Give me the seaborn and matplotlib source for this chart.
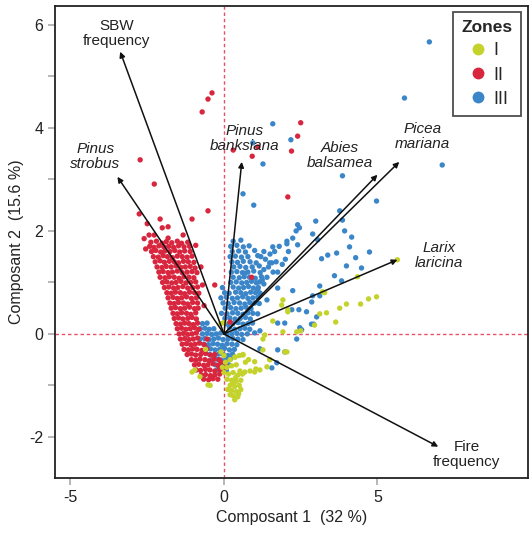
import pandas as pd
import seaborn as sns
import matplotlib.pyplot as plt
from matplotlib.ticker import MultipleLocator

# Points, par zone (Composant 1, Composant 2)
zone1_pts = [
    (0.05, -0.55), (0.2, -0.5), (0.36, -0.45), (0.5, -0.42), (0.62, -0.4),
    (0.1, -0.65), (0.25, -0.62), (0.4, -0.6), (-0.05, -0.65), (0.7, -0.55),
    (0.0, -0.75), (0.15, -0.78), (0.3, -0.75), (0.45, -0.8), (0.6, -0.78),
    (0.1, -0.88), (0.25, -0.9), (0.4, -0.92), (0.55, -0.9), (0.68, -0.74),
    (0.2, -1.0), (0.35, -1.02), (0.5, -1.0), (0.12, -1.08), (0.25, -1.1),
    (0.4, -1.12), (0.55, -1.08), (0.3, -1.2), (0.45, -1.22), (0.35, -1.28),
    (0.2, -1.18), (0.85, -0.72), (1.0, -0.74), (1.04, -0.68), (1.17, -0.7),
    (1.4, -0.64), (1.49, -0.5), (1.27, -0.31), (1.0, -0.54), (0.8, -0.5),
    (-1.04, -0.74), (-0.95, -0.7), (-0.78, -0.83), (-0.52, -0.99), (-0.45, -1.0),
    (-0.1, 0.2), (0.0, 0.22), (-0.6, -0.3), (-0.1, -0.35), (0.0, -0.42),
    (1.92, 0.66), (1.88, 0.56), (2.08, 0.47), (2.08, 0.43), (1.59, 0.25),
    (3.21, 0.82), (3.28, 0.8), (3.34, 0.41), (3.12, 0.39), (2.95, 0.17),
    (3.64, 0.23), (3.77, 0.5), (3.99, 0.58), (4.45, 0.58), (4.71, 0.68),
    (4.97, 0.72), (4.35, 1.11), (1.92, 0.04), (2.37, 0.04), (2.5, 0.06),
    (1.33, -0.02), (1.27, -0.1), (1.98, -0.35), (2.05, -0.35), (1.49, -0.5),
    (0.36, -0.45), (0.62, -0.41), (5.65, 1.44),
    (0.28, -0.96), (0.48, -1.16), (0.38, -0.85), (0.52, -0.72),
]

zone2_pts = [
    # points isolés
    (-0.71, 4.31), (-0.52, 4.56), (-0.39, 4.68), (-2.73, 3.38), (-2.27, 2.91),
    (-0.52, 2.39), (0.3, 3.57), (0.92, 3.45), (1.1, 3.63), (2.4, 3.84),
    (2.2, 3.55), (2.5, 4.1), (2.08, 2.66), (-2.76, 2.33), (-1.04, 2.23),
    (-2.08, 2.23), (-1.82, 2.08), (-2.01, 2.06), (-2.5, 2.14), (-2.44, 1.92),
    (-2.27, 1.92), (-1.33, 1.92), (-1.82, 1.86), (-2.55, 1.65), (-2.6, 1.85),
    (-0.75, 1.3), (-0.7, 0.95), (-0.3, 0.95), (0.2, 0.23), (0.9, 1.1),
    (-0.65, 0.55), (-0.55, -0.1), (-0.1, -0.55), (0.05, -0.62),
    # nuage dense
    (-2.38, 1.78), (-2.2, 1.8), (-2.02, 1.76), (-1.88, 1.79), (-1.7, 1.77),
    (-1.52, 1.8), (-1.38, 1.76), (-1.18, 1.78),
    (-2.42, 1.7), (-2.28, 1.68), (-2.12, 1.71), (-1.96, 1.69), (-1.8, 1.7),
    (-1.64, 1.68), (-1.48, 1.71), (-1.3, 1.69), (-1.12, 1.7), (-0.92, 1.72),
    (-2.36, 1.6), (-2.22, 1.62), (-2.06, 1.59), (-1.92, 1.61), (-1.76, 1.6),
    (-1.6, 1.62), (-1.44, 1.59), (-1.28, 1.61), (-1.1, 1.6),
    (-2.3, 1.5), (-2.14, 1.49), (-1.98, 1.52), (-1.84, 1.5), (-1.68, 1.48),
    (-1.52, 1.51), (-1.36, 1.5), (-1.2, 1.49), (-1.04, 1.51),
    (-2.24, 1.4), (-2.08, 1.42), (-1.94, 1.39), (-1.78, 1.41), (-1.62, 1.4),
    (-1.48, 1.38), (-1.32, 1.41), (-1.16, 1.4), (-0.98, 1.39),
    (-2.18, 1.3), (-2.02, 1.29), (-1.88, 1.31), (-1.72, 1.3), (-1.56, 1.32),
    (-1.4, 1.29), (-1.26, 1.3), (-1.1, 1.31), (-0.94, 1.28),
    (-2.12, 1.2), (-1.98, 1.21), (-1.82, 1.19), (-1.68, 1.2), (-1.52, 1.22),
    (-1.36, 1.19), (-1.2, 1.2), (-1.04, 1.21), (-0.88, 1.19),
    (-2.08, 1.1), (-1.92, 1.09), (-1.78, 1.11), (-1.62, 1.1), (-1.46, 1.08),
    (-1.3, 1.11), (-1.14, 1.1), (-0.98, 1.09),
    (-2.0, 1.0), (-1.86, 1.01), (-1.7, 0.99), (-1.56, 1.0), (-1.4, 1.02),
    (-1.24, 0.99), (-1.08, 1.0), (-0.92, 1.01),
    (-1.94, 0.9), (-1.8, 0.91), (-1.64, 0.89), (-1.5, 0.9), (-1.34, 0.92),
    (-1.18, 0.89), (-1.02, 0.9), (-0.86, 0.91),
    (-1.86, 0.8), (-1.72, 0.79), (-1.58, 0.81), (-1.42, 0.8), (-1.28, 0.78),
    (-1.12, 0.81), (-0.96, 0.8), (-0.82, 0.79),
    (-1.82, 0.7), (-1.66, 0.71), (-1.52, 0.69), (-1.38, 0.7), (-1.22, 0.72),
    (-1.06, 0.69), (-0.9, 0.7),
    (-1.76, 0.6), (-1.62, 0.59), (-1.48, 0.61), (-1.32, 0.6), (-1.18, 0.58),
    (-1.02, 0.61), (-0.86, 0.6),
    (-1.72, 0.5), (-1.58, 0.51), (-1.42, 0.49), (-1.28, 0.5), (-1.12, 0.52),
    (-0.96, 0.49), (-0.84, 0.5),
    (-1.66, 0.4), (-1.52, 0.39), (-1.38, 0.41), (-1.22, 0.4), (-1.08, 0.38),
    (-0.92, 0.41),
    (-1.62, 0.3), (-1.48, 0.31), (-1.34, 0.29), (-1.18, 0.3), (-1.04, 0.32),
    (-0.9, 0.29),
    (-1.56, 0.2), (-1.42, 0.19), (-1.28, 0.21), (-1.14, 0.2), (-1.0, 0.18),
    (-0.86, 0.21),
    (-1.52, 0.1), (-1.38, 0.11), (-1.24, 0.09), (-1.1, 0.1), (-0.96, 0.12),
    (-0.82, 0.09),
    (-1.46, 0.0), (-1.32, 0.01), (-1.18, -0.01), (-1.04, 0.0), (-0.9, 0.02),
    (-1.42, -0.1), (-1.28, -0.09), (-1.14, -0.11), (-1.0, -0.1), (-0.86, -0.08),
    (-1.36, -0.2), (-1.22, -0.19), (-1.08, -0.21), (-0.94, -0.2), (-0.8, -0.18),
    (-0.64, -0.21),
    (-1.3, -0.3), (-1.16, -0.31), (-1.02, -0.29), (-0.88, -0.3), (-0.72, -0.32),
    (-0.56, -0.29),
    (-1.2, -0.4), (-1.06, -0.39), (-0.92, -0.41), (-0.76, -0.4), (-0.6, -0.38),
    (-0.44, -0.41), (-0.3, -0.4),
    (-1.06, -0.5), (-0.92, -0.51), (-0.78, -0.49), (-0.62, -0.5), (-0.48, -0.52),
    (-0.32, -0.49), (-0.16, -0.5),
    (-0.96, -0.6), (-0.82, -0.59), (-0.66, -0.61), (-0.52, -0.6), (-0.36, -0.58),
    (-0.2, -0.61),
    (-0.9, -0.7), (-0.76, -0.71), (-0.6, -0.69), (-0.46, -0.7), (-0.3, -0.72),
    (-0.14, -0.69), (-0.04, -0.7),
    (-0.74, -0.8), (-0.6, -0.79), (-0.44, -0.81), (-0.3, -0.8), (-0.14, -0.78),
    (-0.66, -0.88), (-0.5, -0.89), (-0.36, -0.87), (-0.2, -0.88),
]

zone3_pts = [
    # points isolés
    (6.69, 5.67), (5.88, 4.58), (7.11, 3.28), (3.86, 3.07), (4.97, 2.58),
    (1.59, 4.08), (2.18, 3.77), (1.27, 3.3), (0.94, 3.71), (0.62, 2.72),
    (0.97, 2.5), (3.77, 2.39), (3.86, 2.21), (2.99, 2.19), (2.4, 2.12),
    (2.46, 2.06), (2.35, 2.0), (3.93, 2.0), (2.24, 1.86), (2.89, 1.94),
    (3.05, 1.83), (4.16, 1.88), (2.4, 1.73), (2.05, 1.75), (1.59, 1.69),
    (2.1, 1.6), (2.0, 1.45), (1.9, 1.35), (3.18, 1.46), (3.38, 1.53),
    (3.67, 1.57), (4.09, 1.69), (4.29, 1.48), (4.74, 1.59), (3.99, 1.32),
    (4.48, 1.28), (3.6, 1.13), (3.83, 1.03), (3.12, 0.93), (2.24, 0.84),
    (2.89, 0.74), (3.12, 0.74), (2.86, 0.62), (2.44, 0.47), (2.69, 0.43),
    (3.02, 0.33), (2.21, 0.47), (1.98, 0.21), (1.75, 0.21), (2.47, 0.12),
    (2.53, 0.08), (2.37, -0.1), (1.17, 0.06), (1.0, 0.02), (1.75, -0.31),
    (1.98, -0.35), (1.17, -0.29), (1.56, -0.66), (1.72, -0.56), (1.4, 0.66),
    (1.75, 0.89), (1.3, 0.97), (1.4, 1.1), (0.68, 1.18), (1.56, 1.38),
    (1.49, 1.38), (2.92, 0.19), (2.85, 0.19),
    (1.2, 1.5), (1.35, 1.45), (1.5, 1.55), (1.65, 1.6), (1.8, 1.7),
    (1.3, 1.25), (1.45, 1.3), (1.6, 1.2), (1.25, 1.05), (1.1, 0.85),
    # nuage dense
    (0.3, 1.8), (0.55, 1.82), (2.05, 1.8),
    (0.22, 1.7), (0.42, 1.72), (0.63, 1.69), (0.82, 1.71),
    (0.27, 1.6), (0.48, 1.61), (0.7, 1.59), (1.0, 1.62), (1.3, 1.6),
    (0.2, 1.5), (0.37, 1.51), (0.57, 1.49), (0.78, 1.5), (1.1, 1.52),
    (0.26, 1.4), (0.44, 1.39), (0.63, 1.41), (0.85, 1.4), (1.05, 1.38), (1.7, 1.4),
    (0.32, 1.3), (0.52, 1.31), (0.71, 1.29), (0.92, 1.3), (1.15, 1.32),
    (0.24, 1.2), (0.42, 1.21), (0.6, 1.19), (0.78, 1.2), (0.97, 1.22),
    (1.18, 1.19), (1.75, 1.2),
    (0.3, 1.1), (0.5, 1.09), (0.66, 1.11), (0.83, 1.1), (1.02, 1.08), (1.22, 1.11),
    (0.22, 1.0), (0.4, 1.01), (0.58, 0.99), (0.74, 1.0), (0.9, 1.02),
    (1.06, 0.99), (1.16, 1.01),
    (-0.05, 0.9), (0.3, 0.91), (0.48, 0.89), (0.64, 0.9), (0.8, 0.92),
    (0.96, 0.89), (1.12, 0.9),
    (0.02, 0.8), (0.17, 0.79), (0.38, 0.81), (0.55, 0.8), (0.71, 0.78),
    (0.87, 0.81), (1.03, 0.8), (1.18, 0.79),
    (-0.1, 0.7), (0.08, 0.71), (0.27, 0.69), (0.44, 0.7), (0.61, 0.72),
    (0.78, 0.69), (0.94, 0.7), (1.1, 0.71),
    (-0.03, 0.6), (0.14, 0.59), (0.33, 0.61), (0.51, 0.6), (0.68, 0.58),
    (0.84, 0.61), (1.0, 0.6), (1.15, 0.59),
    (0.04, 0.5), (0.22, 0.51), (0.39, 0.49), (0.56, 0.5), (0.72, 0.52),
    (0.88, 0.49),
    (-0.08, 0.4), (0.1, 0.39), (0.28, 0.41), (0.45, 0.4), (0.62, 0.38),
    (0.78, 0.41), (0.94, 0.4), (1.1, 0.39),
    (0.03, 0.3), (0.19, 0.31), (0.36, 0.29), (0.53, 0.3), (0.7, 0.32),
    (0.86, 0.29),
    (-0.7, 0.2), (-0.55, 0.21), (0.12, 0.19), (0.29, 0.2), (0.46, 0.22),
    (0.62, 0.19), (0.78, 0.2), (0.93, 0.21),
    (-0.77, 0.1), (-0.62, 0.11), (-0.48, 0.09), (-0.33, 0.1), (0.18, 0.12),
    (0.35, 0.09), (0.52, 0.1), (0.68, 0.11), (0.84, 0.09),
    (-0.7, 0.0), (-0.55, 0.01), (-0.4, -0.01), (-0.25, 0.0), (-0.1, 0.02),
    (0.1, -0.01), (0.26, 0.0), (0.42, 0.01), (0.58, -0.01), (0.76, 0.0),
    (-0.78, -0.1), (-0.63, -0.09), (-0.48, -0.11), (-0.33, -0.1), (-0.18, -0.08),
    (-0.03, -0.11), (0.13, -0.1), (0.29, -0.09), (0.45, -0.1), (0.62, -0.11),
    (-0.66, -0.2), (-0.51, -0.21), (-0.36, -0.19), (-0.21, -0.2), (-0.06, -0.22),
    (0.1, -0.19), (0.26, -0.2), (0.42, -0.21),
    (-0.59, -0.3), (-0.44, -0.29), (-0.29, -0.31), (-0.14, -0.3), (0.02, -0.28),
    (0.18, -0.31), (0.34, -0.3),
    (-0.47, -0.4), (-0.32, -0.41), (-0.17, -0.39), (-0.02, -0.4), (0.13, -0.42),
    (0.28, -0.39),
    (-0.38, -0.5), (-0.23, -0.49), (-0.08, -0.51), (0.07, -0.5), (0.22, -0.48),
    (-0.28, -0.6), (-0.13, -0.61), (0.02, -0.59), (0.16, -0.6),
    (-0.22, -0.7), (-0.07, -0.69), (0.08, -0.71),
]

# Variables (flèches) et position de leur étiquette
variables = ["SBW\nfrequency", "Pinus\nstrobus", "Pinus\nbanksiana", "Abies\nbalsamea",
             "Picea\nmariana", "Larix\nlaricina", "Fire\nfrequency"]
arrow_x = [-3.38, -3.47, 0.58, 5.0, 5.71, 5.65, 6.98]
arrow_y = [5.48, 3.05, 3.34, 3.09, 3.34, 1.44, -2.19]
label_x = [-3.5, -4.19, 0.68, 3.77, 6.46, 7.0, 7.9]
label_y = [5.84, 3.44, 3.8, 3.47, 3.83, 1.53, -2.35]
italic = [False, True, True, True, True, True, False]

zones = ["I", "II", "III"]
colors = {"I": "#c4d22c", "II": "#d8263f", "III": "#3b86c9"}

rows = [(x, y, "III") for x, y in zone3_pts]
rows += [(x, y, "II") for x, y in zone2_pts]
rows += [(x, y, "I") for x, y in zone1_pts]
df = pd.DataFrame(rows, columns=["c1", "c2", "zone"])

sns.set_style("ticks")
plt.rcParams["font.family"] = ["Liberation Sans", "DejaVu Sans"]
plt.rcParams["legend.fancybox"] = False
plt.rcParams["axes.unicode_minus"] = False

fig, ax = plt.subplots(figsize=(5.3, 5.33), dpi=100)
fig.subplots_adjust(left=0.104, right=0.996, bottom=0.103, top=0.989)

ax.axhline(0, color="#e8506a", lw=1, ls=(0, (2.5, 2)), zorder=1)
ax.axvline(0, color="#e8506a", lw=1, ls=(0, (2.5, 2)), zorder=1)

sns.scatterplot(data=df, x="c1", y="c2", hue="zone", hue_order=zones,
                palette=colors, s=15, linewidth=0, ax=ax, zorder=2)

for name, ax_, ay_, lx, ly, it in zip(variables, arrow_x, arrow_y, label_x, label_y, italic):
    ax.annotate("", xy=(ax_, ay_), xytext=(0, 0),
                arrowprops=dict(arrowstyle="-|>", color="#111111", lw=1.1,
                                mutation_scale=8, shrinkA=0, shrinkB=0), zorder=3)
    ax.text(lx, ly, name, ha="center", va="center", fontsize=11, color="#222222",
            style="italic" if it else "normal", linespacing=1.1, zorder=4)

ax.set_xlim(-5.5, 9.9)
ax.set_ylim(-2.8, 6.37)
ax.set_xticks([-5, 0, 5])
ax.set_yticks([-2, 0, 2, 4, 6])
ax.yaxis.set_minor_locator(MultipleLocator(1))
ax.tick_params(which="both", direction="out", length=5, width=1.2,
               color="#aaaaaa", labelsize=11.5, labelcolor="#222222")
for sp in ax.spines.values():
    sp.set_visible(True)
    sp.set_color("#222222")
    sp.set_linewidth(1.3)

ax.set_xlabel("Composant 1  (32 %)", fontsize=11.5, color="#222222")
ax.set_ylabel("Composant 2  (15.6 %)", fontsize=11.5, color="#222222")

sns.move_legend(ax, "upper right", bbox_to_anchor=(0.985, 0.987), borderaxespad=0,
                title="Zones", frameon=True, markerscale=2.2, fontsize=13,
                title_fontsize=12.5, handletextpad=0.2, labelspacing=0.4,
                borderpad=0.45, handlelength=1.3)
leg = ax.get_legend()
leg.get_title().set_fontweight("bold")
leg.get_frame().set_edgecolor("#222222")
leg.get_frame().set_linewidth(1.3)

fig.savefig("out.png", dpi=100)
